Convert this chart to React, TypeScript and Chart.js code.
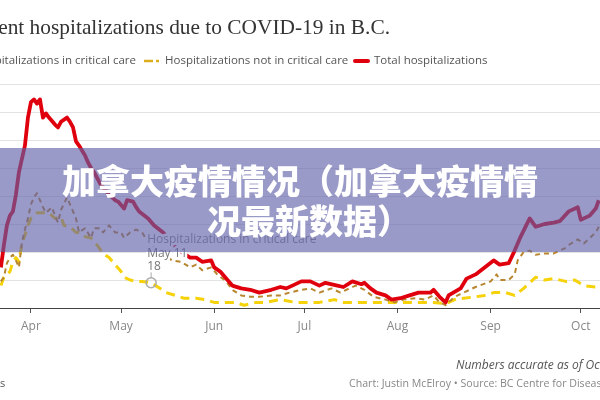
import React, { useEffect, useRef } from "react";
import { Chart, registerables } from "chart.js";

Chart.register(...registerables);

// Days counted from April 1 (day 0)
const monthTickDays = [0, 30, 61, 91, 122, 153, 183];
const monthLabels = ["Apr", "May", "Jun", "Jul", "Aug", "Sep", "Oct"];

const seriesNames = [
  "Hospitalizations in critical care",
  "Hospitalizations not in critical care",
  "Total hospitalizations",
];

const totalDays = [-10, -9, -8, -7, -6, -5, -4, -2, -1, 0, 1, 2, 3, 4, 5, 6, 8, 9, 10, 12, 13, 14, 15, 16, 18, 19, 20, 21, 23, 25, 26, 28, 29, 31, 32, 34, 35, 36, 39, 41, 44, 47, 50, 53, 55, 57, 60, 61, 63, 65, 67, 70, 73, 76, 80, 83, 85, 87, 90, 93, 96, 98, 102, 104, 107, 110, 111, 113, 115, 118, 120, 123, 126, 129, 133, 134, 136, 138, 139, 143, 145, 148, 151, 154, 156, 159, 161, 163, 166, 168, 171, 174, 176, 179, 182, 183, 186, 188, 189];
const totalValues = [29, 45, 59, 66, 69, 81, 97, 116, 136, 147, 149, 146, 149, 136, 139, 136, 131, 129, 133, 136, 133, 129, 119, 116, 109, 104, 100, 97, 89, 84, 81, 77, 76, 71, 77, 76, 72, 69, 64, 59, 54, 46, 40, 36, 36, 33, 34, 29, 26, 21, 16, 14, 13, 11, 13, 15, 14, 16, 19, 19, 16, 18, 16, 15, 19, 17, 18, 14, 11, 9, 6, 7, 9, 11, 11, 13, 8, 4, 9, 14, 21, 24, 29, 34, 31, 32, 41, 51, 64, 58, 60, 61, 62, 69, 72, 63, 66, 71, 77];

const notCriticalDays = [-10, -9, -8, -7, -6, -5, -4, -3, -2, -1, 0, 1, 2, 3, 4, 5, 6, 7, 8, 9, 10, 12, 13, 15, 16, 18, 20, 21, 23, 24, 26, 28, 30, 31, 33, 35, 37, 39, 43, 47, 50, 53, 55, 57, 60, 62, 65, 67, 70, 73, 76, 80, 83, 86, 90, 93, 96, 100, 103, 106, 108, 111, 114, 118, 121, 124, 128, 131, 134, 136, 138, 141, 144, 148, 153, 155, 156, 159, 161, 162, 164, 166, 168, 171, 174, 178, 179, 182, 184, 188, 189];
const notCriticalValues = [19, 22, 32, 36, 38, 34, 29, 47, 56, 64, 74, 79, 82, 77, 72, 68, 70, 72, 66, 61, 70, 79, 74, 64, 54, 57, 50, 57, 57, 54, 59, 54, 54, 50, 54, 56, 54, 47, 40, 34, 33, 29, 31, 27, 29, 24, 19, 13, 9, 8, 8, 9, 9, 11, 13, 14, 11, 14, 11, 14, 16, 13, 8, 6, 4, 6, 7, 6, 9, 4, 2, 8, 11, 15, 19, 24, 20, 20, 24, 34, 40, 41, 38, 39, 39, 43, 45, 49, 46, 54, 58];

const criticalDays = [-10, -9, -7, -6, -5, -4, -3, -2, -1, 0, 1, 2, 4, 6, 8, 10, 11, 13, 15, 16, 18, 20, 22, 24, 26, 28, 30, 31, 33, 35, 37, 40, 43, 45, 48, 51, 55, 58, 61, 65, 68, 71, 75, 78, 83, 88, 93, 96, 101, 104, 109, 114, 119, 124, 129, 134, 138, 141, 144, 148, 151, 154, 158, 161, 164, 168, 171, 174, 178, 181, 184, 188, 189];
const criticalValues = [16, 22, 26, 33, 36, 33, 46, 52, 59, 64, 66, 68, 68, 68, 64, 65, 59, 58, 54, 54, 51, 50, 45, 39, 36, 31, 26, 22, 20, 19, 19, 18, 14, 11, 9, 7, 7, 6, 4, 4, 4, 2, 4, 4, 6, 4, 4, 4, 6, 4, 4, 4, 4, 4, 4, 4, 3, 6, 7, 8, 9, 11, 11, 9, 14, 22, 20, 21, 19, 20, 16, 15, 16];

const annotationDay = 40;
const annotationDate = "May 11";
const annotationValue = 18;

const titleText = "Current hospitalizations due to COVID-19 in B.C.";
const noteText = "Numbers accurate as of Oct. 8";
const creditText = "Chart: Justin McElroy \u2022 Source: BC Centre for Disease Control";
const bannerLines = ["加拿大疫情情况（加拿大疫情情", "况最新数据）"];

const RED = "#e0000d";
const BROWN = "#b8862e";
const YELLOW = "#f5d20a";

const toPoints = (days: number[], vals: number[]) =>
  days.map((d, i) => ({ x: d, y: vals[i] }));

const decorPlugin = {
  id: "decor",
  beforeDraw(chart: any) {
    const ctx = chart.ctx;
    ctx.save();
    ctx.fillStyle = "#ffffff";
    ctx.fillRect(0, 0, chart.width, chart.height);
    ctx.restore();
  },
  afterDraw(chart: any) {
    const ctx = chart.ctx;
    const xs = chart.scales.x;
    const ys = chart.scales.y;
    ctx.save();

    // Title (visible part "ent hospitalizations ... B.C." spans ~0..390)
    ctx.fillStyle = "#333333";
    ctx.font = "21px 'Liberation Serif', serif";
    const visibleW = ctx.measureText(titleText.slice(4)).width;
    const fs = (21 * 392) / visibleW;
    ctx.font = `${fs.toFixed(2)}px 'Liberation Serif', serif`;
    ctx.textAlign = "right";
    ctx.textBaseline = "alphabetic";
    ctx.fillText(titleText, 390, 34);

    // Legend
    ctx.font = "11.5px 'Open Sans', sans-serif";
    ctx.fillStyle = "#555555";
    ctx.textBaseline = "middle";
    ctx.textAlign = "right";
    ctx.fillText(seriesNames[0], 136, 61);
    ctx.textAlign = "left";
    ctx.fillText(seriesNames[1], 165, 61);
    ctx.fillText(seriesNames[2], 374, 61);
    ctx.lineCap = "butt";
    ctx.strokeStyle = "#dcae1e";
    ctx.lineWidth = 2.5;
    ctx.beginPath();
    ctx.moveTo(144, 61);
    ctx.lineTo(153, 61);
    ctx.moveTo(156, 61);
    ctx.lineTo(159, 61);
    ctx.stroke();
    ctx.strokeStyle = RED;
    ctx.lineWidth = 4;
    ctx.lineCap = "round";
    ctx.beginPath();
    ctx.moveTo(355, 61);
    ctx.lineTo(368, 61);
    ctx.stroke();

    // Annotation
    const px = xs.getPixelForValue(annotationDay);
    const py = ys.getPixelForValue(annotationValue);
    ctx.font = "12px 'Open Sans', sans-serif";
    ctx.textAlign = "left";
    ctx.textBaseline = "middle";
    ctx.lineJoin = "round";
    const lines = [seriesNames[0], annotationDate, String(annotationValue)];
    const offs = [-43, -29, -16];
    lines.forEach((t, i) => {
      ctx.strokeStyle = "#ffffff";
      ctx.lineWidth = 5;
      ctx.strokeText(t, px - 4, py + offs[i]);
      ctx.fillStyle = i === 0 ? "#8a8a8a" : "#777777";
      ctx.fillText(t, px - 4, py + offs[i]);
    });
    ctx.strokeStyle = "#aaaaaa";
    ctx.lineWidth = 1;
    ctx.beginPath();
    ctx.moveTo(px, py - 10);
    ctx.lineTo(px, py - 5);
    ctx.stroke();
    ctx.lineWidth = 1.5;
    ctx.beginPath();
    ctx.arc(px, py, 5, 0, Math.PI * 2);
    ctx.stroke();

    // Footer
    ctx.textBaseline = "middle";
    ctx.font = "italic 12px 'Open Sans', sans-serif";
    ctx.fillStyle = "#555555";
    ctx.fillText(noteText, 456, 366);
    ctx.font = "10.6px 'Open Sans', sans-serif";
    ctx.fillStyle = "#888888";
    ctx.fillText(creditText, 349, 384);
    ctx.font = "11px 'Open Sans', sans-serif";
    ctx.fillStyle = "#555555";
    ctx.fillText("s", 0, 384);

    ctx.restore();
  },
};

export default function App() {
  const canvasRef = useRef<HTMLCanvasElement | null>(null);

  useEffect(() => {
    const canvas = canvasRef.current;
    if (!canvas) return;
    Chart.defaults.font.family = "'Open Sans', sans-serif";
    const chart = new Chart(canvas, {
      type: "line",
      data: {
        datasets: [
          {
            label: seriesNames[2],
            data: toPoints(totalDays, totalValues),
            borderColor: RED,
            borderWidth: 3.8,
            order: 0,
          },
          {
            label: seriesNames[1],
            data: toPoints(notCriticalDays, notCriticalValues),
            borderColor: BROWN,
            borderWidth: 2,
            borderDash: [5, 4],
            order: 1,
          },
          {
            label: seriesNames[0],
            data: toPoints(criticalDays, criticalValues),
            borderColor: YELLOW,
            borderWidth: 3,
            borderDash: [9, 6],
            order: 2,
          },
        ],
      },
      options: {
        responsive: false,
        animation: false,
        events: [],
        elements: {
          point: { radius: 0 },
          line: { tension: 0, borderJoinStyle: "round", fill: false },
        },
        layout: { padding: { top: 84, bottom: 60.6, left: 0, right: 0 } },
        plugins: {
          legend: { display: false },
          tooltip: { enabled: false },
          title: { display: false },
        },
        scales: {
          x: {
            type: "linear",
            min: -10.3,
            max: 189.4,
            afterBuildTicks: (scale: any) => {
              scale.ticks = monthTickDays.map((v) => ({ value: v }));
            },
            ticks: {
              padding: 6,
              color: "#888888",
              font: { size: 12 },
              maxRotation: 0,
              autoSkip: false,
              callback: (_v: any, i: number) => monthLabels[i],
            },
            grid: {
              drawOnChartArea: false,
              drawTicks: true,
              tickLength: 5,
              color: "#555555",
            },
            border: { display: true, color: "#444444", width: 1 },
          },
          y: {
            min: 0,
            max: 160,
            ticks: { display: false, stepSize: 20 },
            grid: { drawTicks: false, color: "#e3e3e3" },
            border: { display: false },
          },
        },
      },
      plugins: [decorPlugin],
    } as any);
    return () => chart.destroy();
  }, []);

  return (
    <div
      style={{
        position: "fixed",
        left: 0,
        top: 0,
        width: 600,
        height: 400,
        overflow: "hidden",
        background: "#fff",
      }}
    >
      <canvas ref={canvasRef} width={600} height={400} style={{ display: "block" }} />
      <div
        style={{
          position: "absolute",
          left: 0,
          top: 148,
          width: 600,
          height: 104,
          background: "rgba(95,95,168,0.63)",
          color: "#ffffff",
          fontFamily: "'Noto Sans CJK SC', sans-serif",
          fontWeight: 900,
          fontSize: 34,
          lineHeight: "40px",
          textAlign: "center",
          display: "flex",
          flexDirection: "column",
          justifyContent: "center",
          whiteSpace: "nowrap",
        }}
      >
        {bannerLines.map((l, i) => (
          <div key={i} style={i === 1 ? { paddingLeft: 18 } : undefined}>
            {l}
          </div>
        ))}
      </div>
    </div>
  );
}
